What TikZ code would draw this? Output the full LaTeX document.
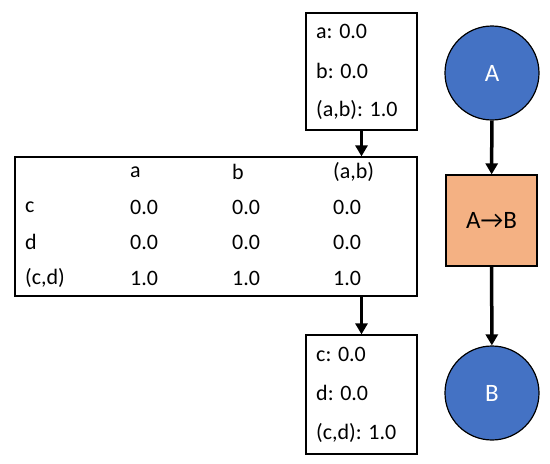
\documentclass[tikz,border=0pt]{standalone}
\usepackage{fontspec}
\setmainfont{Carlito}
\usetikzlibrary{arrows.meta}
\definecolor{nodeblue}{HTML}{4472C4}
\definecolor{factor}{HTML}{F4B183}
\begin{document}
\begin{tikzpicture}[x=1pt,y=-1pt,
  every node/.style={font=\fontsize{22}{26}\selectfont},
  box/.style={draw,line width=1.2pt,fill=white},
  var/.style={circle,draw,line width=1.2pt,fill=nodeblue,text=white,minimum size=94pt,inner sep=0pt,font=\fontsize{25}{30}\selectfont},
  fac/.style={draw,line width=1.2pt,fill=factor,minimum size=91pt,inner sep=0pt,font=\fontsize{25}{30}\selectfont},
  txt/.style={anchor=west,inner sep=0pt},
  conn/.style={line width=3.5pt,-{Triangle[length=11pt,width=12pt]}}]
\useasboundingbox (0,0) rectangle (550,464);
% top box
\node[box,minimum width=111pt,minimum height=117pt] (top) at (361.5,71.5) {};
\node[txt] (ta) at (316,31) {a: 0.0};
\node[txt] (tb) at (316,71) {b: 0.0};
\node[txt] (tab) at (316,110) {(a,b): 1.0};
% table
\node[box,minimum width=402pt,minimum height=139pt] (tab) at (216,226.5) {};
\node[txt] (h1) at (130,172) {a};
\node[txt] (h2) at (232,172) {b};
\node[txt] (h3) at (333,172) {(a,b)};
\node[txt] (r1) at (25,207) {c};
\node[txt] (r2) at (25,242) {d};
\node[txt] (r3) at (25,278) {(c,d)};
\node[txt] (c11) at (130,207) {0.0};
\node[txt] (c12) at (232,207) {0.0};
\node[txt] (c13) at (333,207) {0.0};
\node[txt] (c21) at (130,242) {0.0};
\node[txt] (c22) at (232,242) {0.0};
\node[txt] (c23) at (333,242) {0.0};
\node[txt] (c31) at (130,278) {1.0};
\node[txt] (c32) at (232,278) {1.0};
\node[txt] (c33) at (333,278) {1.0};
% bottom box
\node[box,minimum width=111pt,minimum height=119pt] (bot) at (361.5,394.5) {};
\node[txt] (bc) at (316,354) {c: 0.0};
\node[txt] (bd) at (316,393) {d: 0.0};
\node[txt] (bcd) at (316,433) {(c,d): 1.0};
% graph
\node[var] (A) at (492,73) {A};
\node[fac] (F) at (491.5,220.5) {A→B};
\node[var] (B) at (492,393) {B};
\draw[conn] (top.south) -- (top.south |- tab.north);
\draw[conn] (tab.south -| bot.north) -- (bot.north);
\draw[conn] (A) -- (F);
\draw[conn] (F) -- (B);
\end{tikzpicture}
\end{document}
